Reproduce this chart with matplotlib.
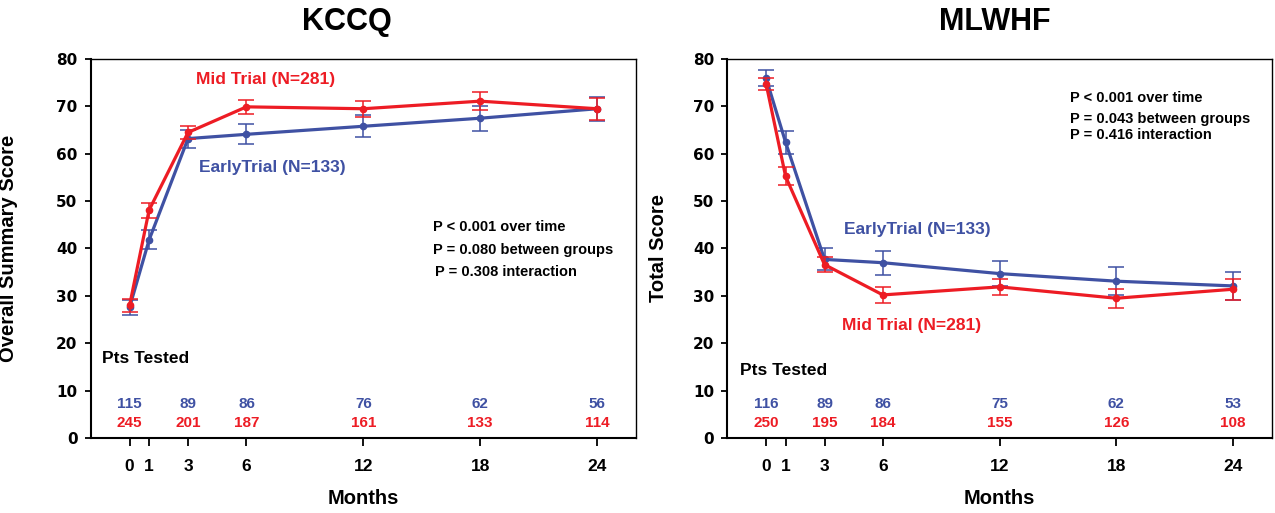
import matplotlib
matplotlib.use("Agg")
import matplotlib.pyplot as plt

RED = "#ED1C24"
BLUE = "#3F51A3"

months = [0, 1, 3, 6, 12, 18, 24]

kccq_early = [27.6, 41.8, 63.2, 64.1, 65.8, 67.5, 69.5]
kccq_early_err = [1.6, 2.0, 1.9, 2.1, 2.3, 2.6, 2.5]
kccq_mid = [28.0, 48.1, 64.5, 69.9, 69.5, 71.1, 69.5]
kccq_mid_err = [1.3, 1.6, 1.4, 1.5, 1.7, 1.9, 2.3]

mlwhf_early = [75.9, 62.4, 37.7, 37.0, 34.7, 33.1, 32.1]
mlwhf_early_err = [1.7, 2.5, 2.3, 2.5, 2.6, 3.0, 2.9]
mlwhf_mid = [74.7, 55.2, 36.6, 30.2, 31.9, 29.5, 31.4]
mlwhf_mid_err = [1.2, 1.9, 1.6, 1.6, 1.75, 2.0, 2.2]

count_months = [0, 3, 6, 12, 18, 24]
kccq_n_early = [115, 89, 86, 76, 62, 56]
kccq_n_mid = [245, 201, 187, 161, 133, 114]
mlwhf_n_early = [116, 89, 86, 75, 62, 53]
mlwhf_n_mid = [250, 195, 184, 155, 126, 108]

kccq_pvals = ["P < 0.001 over time", "P = 0.080 between groups", "P = 0.308 interaction"]
mlwhf_pvals = ["P < 0.001 over time", "P = 0.043 between groups", "P = 0.416 interaction"]

plt.rcParams["font.family"] = ["Liberation Sans", "DejaVu Sans"]
plt.rcParams["font.weight"] = "bold"

fig = plt.figure(figsize=(12.75, 5.13), dpi=100)
ax1 = fig.add_axes([0.0711, 0.1462, 0.4277, 0.7388])
ax2 = fig.add_axes([0.5704, 0.1462, 0.4272, 0.7388])


def draw_panel(ax, early, early_err, mid, mid_err, n_early, n_mid, pvals, pval_pos,
               early_pos, mid_pos, pts_pos, ylabel, ylab_x):
    ax.errorbar(months, early, yerr=early_err, color=BLUE, lw=2.3, marker="o", ms=4.5,
                elinewidth=1.1, capsize=5.5, capthick=1.1, zorder=3)
    ax.errorbar(months, mid, yerr=mid_err, color=RED, lw=2.3, marker="o", ms=4.5,
                elinewidth=1.1, capsize=5.5, capthick=1.1, zorder=4)

    ax.set_xlim(-2, 26)
    ax.set_ylim(0, 80)
    ax.set_xticks(months)
    ax.set_yticks(range(0, 81, 10))
    ax.tick_params(axis="x", direction="out", length=6, width=1.3, pad=9, labelsize=12.5)
    ax.tick_params(axis="y", direction="out", length=4.5, width=1.3, pad=5)
    for lab in ax.get_xticklabels():
        lab.set_fontweight("bold")
    for lab in ax.get_yticklabels():
        lab.set_fontweight("bold")
        lab.set_fontfamily("DejaVu Sans")
        lab.set_fontsize(11)

    for side in ["left", "bottom"]:
        ax.spines[side].set_linewidth(1.5)
    for side in ["top", "right"]:
        ax.spines[side].set_linewidth(1.0)

    ax.set_xlabel("Months", fontsize=14.5, fontweight="bold")
    ax.xaxis.set_label_coords(0.5, -0.135)
    ax.set_ylabel(ylabel, fontsize=14.5, fontweight="bold")
    ax.yaxis.set_label_coords(ylab_x, 0.5)

    for m, ne, nm in zip(count_months, n_early, n_mid):
        ax.text(m, 7.2, str(ne), color=BLUE, fontsize=11, fontweight="bold",
                ha="center", va="center")
        ax.text(m, 3.1, str(nm), color=RED, fontsize=11, fontweight="bold",
                ha="center", va="center")

    ax.text(pts_pos[0], pts_pos[1], "Pts Tested", fontsize=12.5, fontweight="bold",
            ha="left", va="center")
    ax.text(early_pos[0], early_pos[1], "EarlyTrial (N=133)", color=BLUE, fontsize=12.5,
            fontweight="bold", ha="center", va="center")
    ax.text(mid_pos[0], mid_pos[1], "Mid Trial (N=281)", color=RED, fontsize=12.5,
            fontweight="bold", ha="center", va="center")
    for txt, (px, py) in zip(pvals, pval_pos):
        ax.text(px, py, txt, fontsize=10.5, fontweight="bold", ha="left", va="center")


draw_panel(ax1, kccq_early, kccq_early_err, kccq_mid, kccq_mid_err,
           kccq_n_early, kccq_n_mid, kccq_pvals,
           [(15.6, 44.6), (15.6, 39.7), (15.7, 35.1)],
           (7.35, 57.2), (7.0, 75.7), (-1.4, 16.7),
           "Overall Summary Score", -0.133)

draw_panel(ax2, mlwhf_early, mlwhf_early_err, mlwhf_mid, mlwhf_mid_err,
           mlwhf_n_early, mlwhf_n_mid, mlwhf_pvals,
           [(15.6, 71.7), (15.6, 67.4), (15.6, 63.9)],
           (7.75, 44.0), (7.5, 23.8), (-1.35, 14.2),
           "Total Score", -0.109)

fig.text(0.272, 0.958, "KCCQ", fontsize=22, fontweight="bold", ha="center", va="center")
fig.text(0.780, 0.958, "MLWHF", fontsize=22, fontweight="bold", ha="center", va="center")

fig.savefig("out.png", dpi=100)
